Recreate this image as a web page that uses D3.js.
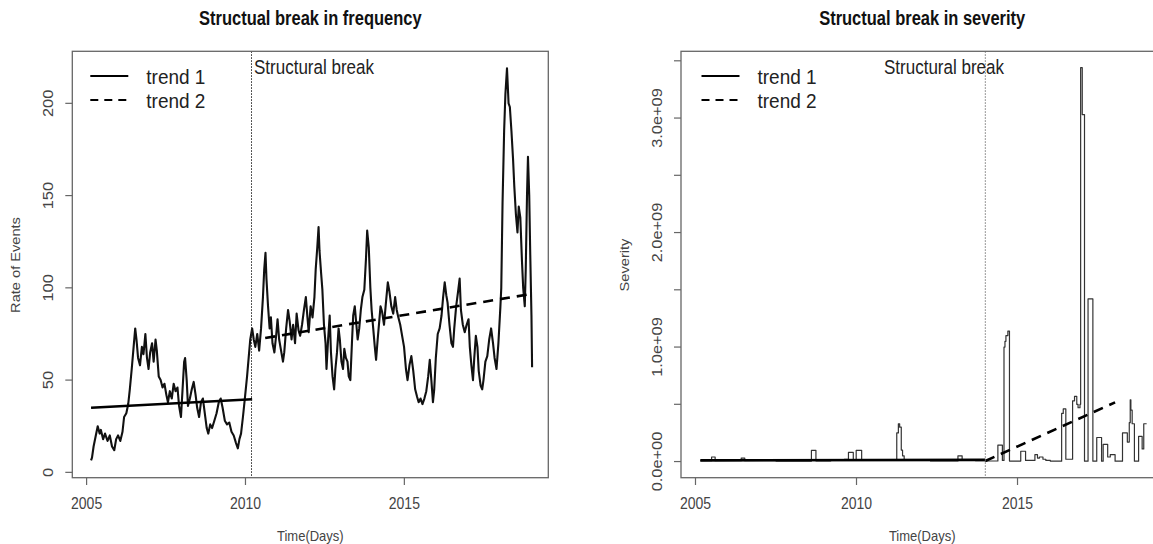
<!DOCTYPE html>
<html>
<head>
<meta charset="utf-8">
<script src="https://cdn.jsdelivr.net/npm/d3@7/dist/d3.min.js"></script>
<style>
  html, body { margin: 0; padding: 0; background: #fff; }
  svg { display: block; }
  text { font-family: "Liberation Sans", Arial, sans-serif; fill: #333; }
</style>
</head>
<body>
<svg id="chart" width="1153" height="544"></svg>
<script>
// ---- Rate of events (rolling count), by fractional year ----
const freqYears = [
  2005.14, 2005.17, 2005.22, 2005.29, 2005.35, 2005.41, 2005.45, 2005.52, 2005.58, 2005.66,
  2005.73, 2005.80, 2005.87, 2005.93, 2005.99, 2006.06, 2006.13, 2006.18, 2006.25, 2006.31,
  2006.36, 2006.42, 2006.48, 2006.53, 2006.57, 2006.62, 2006.68, 2006.74, 2006.79, 2006.85,
  2006.90, 2006.95, 2007.00, 2007.06, 2007.11, 2007.17, 2007.21, 2007.27, 2007.33, 2007.39,
  2007.45, 2007.51, 2007.56, 2007.62, 2007.68, 2007.74, 2007.80, 2007.86, 2007.91, 2007.97,
  2008.02, 2008.07, 2008.10, 2008.15, 2008.19, 2008.25, 2008.31, 2008.37, 2008.43, 2008.48,
  2008.54, 2008.60, 2008.66, 2008.72, 2008.78, 2008.83, 2008.89, 2008.95, 2009.02, 2009.09,
  2009.16, 2009.22, 2009.28, 2009.35, 2009.42, 2009.49, 2009.56, 2009.63, 2009.70, 2009.76,
  2009.81, 2009.86, 2009.92, 2009.98, 2010.05, 2010.10, 2010.15, 2010.21, 2010.26, 2010.31,
  2010.37, 2010.43, 2010.49, 2010.55, 2010.59, 2010.63, 2010.66, 2010.71, 2010.76, 2010.80,
  2010.85, 2010.91, 2010.97, 2011.01, 2011.06, 2011.12, 2011.18, 2011.22, 2011.28, 2011.34,
  2011.39, 2011.45, 2011.50, 2011.56, 2011.61, 2011.67, 2011.72, 2011.78, 2011.84, 2011.90,
  2011.95, 2011.99, 2012.05, 2012.11, 2012.17, 2012.21, 2012.26, 2012.30, 2012.33, 2012.38,
  2012.42, 2012.47, 2012.52, 2012.55, 2012.60, 2012.65, 2012.69, 2012.74, 2012.79, 2012.83,
  2012.88, 2012.93, 2012.97, 2013.02, 2013.07, 2013.11, 2013.16, 2013.21, 2013.25, 2013.30,
  2013.35, 2013.39, 2013.44, 2013.49, 2013.53, 2013.58, 2013.63, 2013.68, 2013.74, 2013.79,
  2013.83, 2013.88, 2013.93, 2013.97, 2014.02, 2014.07, 2014.11, 2014.16, 2014.21, 2014.25,
  2014.30, 2014.36, 2014.42, 2014.48, 2014.53, 2014.59, 2014.65, 2014.71, 2014.76, 2014.81,
  2014.87, 2014.93, 2014.99, 2015.05, 2015.10, 2015.16, 2015.22, 2015.28, 2015.34, 2015.40,
  2015.45, 2015.51, 2015.57, 2015.63, 2015.69, 2015.75, 2015.80, 2015.85, 2015.90, 2015.94,
  2015.99, 2016.05, 2016.11, 2016.17, 2016.22, 2016.27, 2016.32, 2016.36, 2016.42, 2016.48,
  2016.53, 2016.57, 2016.63, 2016.69, 2016.74, 2016.78, 2016.84, 2016.90, 2016.96, 2017.02,
  2017.06, 2017.11, 2017.16, 2017.20, 2017.25, 2017.30, 2017.34, 2017.40, 2017.45, 2017.49,
  2017.55, 2017.61, 2017.67, 2017.73, 2017.79, 2017.84, 2017.90, 2017.96, 2018.02, 2018.05,
  2018.09, 2018.14, 2018.18, 2018.23, 2018.28, 2018.32, 2018.37, 2018.42, 2018.46, 2018.51,
  2018.56, 2018.60, 2018.65, 2018.70, 2018.74, 2018.79, 2018.82, 2018.86, 2018.89, 2018.93,
  2018.96, 2019.00, 2019.02
];
const freqValues = [
  6.5, 8, 14, 20, 25, 21, 23, 18, 21, 17,
  20, 14, 12, 18, 20, 17, 22, 30, 32, 37,
  45, 56, 68, 78, 72, 62, 58, 68, 64, 75,
  62, 56, 65, 70, 60, 72, 66, 52, 50, 46,
  48, 42, 38, 44, 40, 48, 44, 46, 36, 30,
  45, 60, 62, 50, 36, 40, 45, 49, 42, 35,
  30, 38, 40, 32, 24, 21, 26, 24, 28, 32,
  38, 40, 35, 28, 26, 27, 22, 20, 16, 13,
  18, 21, 30, 40, 52, 62, 72, 78, 72, 68,
  75, 66, 78, 95, 110, 119, 105, 90, 78, 84,
  70, 65, 75, 83, 72, 66, 60, 65, 78, 88,
  82, 72, 80, 70, 86, 77, 74, 80, 88, 95,
  84, 76, 90, 84, 95, 110, 122, 133, 120, 108,
  99, 80, 70, 56, 72, 85, 65, 52, 45, 56,
  65, 78, 72, 60, 56, 67, 62, 60, 52, 50,
  70, 85, 90, 80, 72, 78, 88, 95, 99, 115,
  131, 122, 100, 88, 78, 68, 61, 72, 82, 90,
  87, 80, 92, 103, 98, 90, 86, 95, 88, 84,
  80, 74, 68, 56, 50, 58, 63, 55, 45, 41,
  38, 40, 37, 40, 44, 52, 61, 50, 38, 45,
  62, 75, 78, 85, 95, 103, 96, 92, 80, 70,
  68, 78, 90, 98, 105, 88, 80, 76, 80, 83,
  68, 58, 50, 62, 74, 68, 55, 47, 45, 50,
  60, 63, 72, 78, 70, 62, 56, 70, 89, 100,
  146, 185, 205, 219, 200, 198, 185, 170, 155, 140,
  130, 144, 138, 115, 100, 90, 110, 150, 171, 150,
  120, 85, 57
];

// ---- Severity (step series), change points by fractional year ----
const sevYears = [
  2005.15, 2005.50, 2005.61, 2006.42, 2006.53, 2007.50, 2008.60, 2008.74, 2009.20, 2009.62,
  2009.75, 2009.90, 2009.99, 2010.16, 2010.80, 2011.25, 2011.30, 2011.34, 2011.39, 2011.43,
  2011.48, 2012.30, 2013.15, 2013.28, 2013.70, 2014.00, 2014.39, 2014.53, 2014.58, 2014.61,
  2014.64, 2014.70, 2014.75, 2015.10, 2015.25, 2015.54, 2015.62, 2015.68, 2015.79, 2015.88,
  2016.02, 2016.37, 2016.42, 2016.50, 2016.71, 2016.77, 2016.84, 2016.88, 2016.94, 2016.96,
  2017.01, 2017.08, 2017.19, 2017.34, 2017.46, 2017.61, 2017.66, 2017.80, 2017.88, 2018.03,
  2018.26, 2018.41, 2018.47, 2018.50, 2018.52, 2018.56, 2018.63, 2018.76, 2018.87, 2018.92,
  2019.01
];
const sevValues = [
  0.008e9, 0.04e9, 0.008e9, 0.03e9, 0.008e9, 0.004e9, 0.098e9, 0.006e9, 0.01e9, 0.02e9,
  0.08e9, 0.015e9, 0.098e9, 0.015e9, 0.01e9, 0.25e9, 0.33e9, 0.30e9, 0.10e9, 0.05e9,
  0.01e9, 0.005e9, 0.05e9, 0.01e9, 0.008e9, 0.005e9, 0.144e9, 0.01e9, 1.0e9, 1.05e9,
  1.10e9, 1.14e9, 0.004e9, 0.09e9, 0.01e9, 0.06e9, 0.03e9, 0.04e9, 0.02e9, 0.01e9,
  0.003e9, 0.42e9, 0.46e9, 0.02e9, 0.53e9, 0.57e9, 0.50e9, 0.47e9, 0.50e9, 3.44e9,
  3.03e9, 0.003e9, 1.42e9, 0.003e9, 0.21e9, 0.003e9, 0.15e9, 0.04e9, 0.06e9, 0.003e9,
  0.25e9, 0.17e9, 0.34e9, 0.54e9, 0.45e9, 0.33e9, 0.003e9, 0.22e9, 0.11e9, 0.33e9,
  0.33e9
];

// ---- Fitted trends: [start, end] ----
const freqTrend1Years = [2005.14, 2010.21];
const freqTrend1Values = [35, 39.6];
const freqTrend2Years = [2010.62, 2019.00];
const freqTrend2Values = [72.8, 96.7];
const sevTrend1Years = [2005.15, 2014.00];
const sevTrend1Values = [0.010e9, 0.015e9];
const sevTrend2Years = [2014.00, 2018.03];
const sevTrend2Values = [0.005e9, 0.517e9];

const freqBreak = 2010.19;
const sevBreak = 2014.00;

// ---- Axis ticks ----
const yearTicks = [2005, 2010, 2015];
const freqTicks = [0, 50, 100, 150, 200];
const sevTicks = [0, 0.5e9, 1.0e9, 1.5e9, 2.0e9, 2.5e9, 3.0e9, 3.5e9];
const sevTickLabels = ["0.0e+00", "", "1.0e+09", "", "2.0e+09", "", "3.0e+09", ""];

const legendLabels = ["trend 1", "trend 2"];

// ---------------------------------------------------------------
const svg = d3.select("#chart");
const SY = 1.17; // glyphs are drawn slightly tall

function label(g, x, y, str, o = {}) {
  const sy = o.sy || SY;
  const t = g.append("text")
    .attr("transform", `translate(${x},${y}) scale(1,${sy})` + (o.rotate ? " rotate(-90)" : ""))
    .attr("text-anchor", o.anchor || "middle")
    .attr("dominant-baseline", "central")
    .style("font-size", (o.size || 14) + "px")
    .text(str);
  if (o.bold) t.style("font-weight", "bold");
  if (o.fill) t.style("fill", o.fill);
  return t;
}

function panel(cfg) {
  const g = svg.append("g");
  const x = d3.scaleLinear().domain([2004.55, 2019.53]).range([cfg.left, cfg.right]);
  const y = d3.scaleLinear().domain(cfg.yDomain).range([477.7, 51.3]);
  const cx = (cfg.left + cfg.right) / 2;

  const clipId = "clip" + cfg.id;
  svg.append("clipPath").attr("id", clipId)
    .append("rect").attr("x", cfg.left).attr("y", 51.3)
    .attr("width", cfg.right - cfg.left).attr("height", 477.7 - 51.3);
  const plot = g.append("g").attr("clip-path", `url(#${clipId})`);

  // data series
  const line = d3.line().x(d => x(d[0])).y(d => y(d[1]));
  if (cfg.step) line.curve(d3.curveStepAfter);
  plot.append("path")
    .datum(d3.zip(cfg.years, cfg.values))
    .attr("d", line)
    .attr("fill", "none")
    .attr("stroke", cfg.seriesColor)
    .attr("stroke-width", cfg.seriesWidth)
    .attr("stroke-linejoin", "round");

  // trends
  const tline = d3.line().x(d => x(d[0])).y(d => y(d[1]));
  plot.append("path").datum(d3.zip(cfg.t1y, cfg.t1v)).attr("d", tline)
    .attr("fill", "none").attr("stroke", "#000").attr("stroke-width", 2.6);
  plot.append("path").datum(d3.zip(cfg.t2y, cfg.t2v)).attr("d", tline)
    .attr("fill", "none").attr("stroke", "#000").attr("stroke-width", 2.6)
    .attr("stroke-dasharray", "10,7");

  // structural break marker
  g.append("line")
    .attr("x1", x(cfg.brk)).attr("x2", x(cfg.brk))
    .attr("y1", 51.3).attr("y2", 477.7)
    .attr("stroke", cfg.breakColor).attr("stroke-width", 1)
    .attr("stroke-dasharray", "1.5,1.5");
  label(g, cfg.breakTextX, 67, "Structural break", { anchor: "start", size: 17, fill: "#222" });

  // frame
  g.append("rect")
    .attr("x", cfg.left).attr("y", 51.3)
    .attr("width", cfg.right - cfg.left).attr("height", 477.7 - 51.3)
    .attr("fill", "none").attr("stroke", "#666").attr("stroke-width", 1.3);

  // x axis
  yearTicks.forEach(v => {
    g.append("line").attr("x1", x(v)).attr("x2", x(v)).attr("y1", 477.7).attr("y2", 485)
      .attr("stroke", "#666").attr("stroke-width", 1.2);
    label(g, x(v), 503, String(v), { size: 14, fill: "#444" });
  });
  label(g, cx, 536, "Time(Days)", { size: 13, fill: "#444" });

  // y axis
  cfg.yTicks.forEach((v, i) => {
    g.append("line").attr("x1", cfg.left - 7).attr("x2", cfg.left).attr("y1", y(v)).attr("y2", y(v))
      .attr("stroke", "#666").attr("stroke-width", 1.2);
    const s = cfg.yLabels[i];
    if (s) label(g, cfg.yLabelX, y(v), s, { size: 14, rotate: true, fill: "#444" });
  });
  label(g, cfg.yTitleX, 265, cfg.yTitle, { size: 12.5, rotate: true, fill: "#444" });

  // title
  label(g, cx, 19, cfg.title, { size: 16.5, bold: true, fill: "#111" });

  // legend
  const lx0 = cfg.left + cfg.legendDx, lx1 = lx0 + 38;
  [76, 100].forEach((ly, i) => {
    const l = g.append("line").attr("x1", lx0).attr("x2", lx1).attr("y1", ly).attr("y2", ly)
      .attr("stroke", "#000").attr("stroke-width", 2.2);
    if (i === 1) l.attr("stroke-dasharray", "8,6");
    label(g, lx1 + 18, ly + 1, legendLabels[i], { anchor: "start", size: 19, sy: 1.08, fill: "#222" });
  });
}

panel({
  id: "freq", left: 72.3, right: 548.3,
  yDomain: [-2.9, 228.2],
  years: freqYears, values: freqValues, step: false,
  seriesColor: "#111", seriesWidth: 2.1,
  t1y: freqTrend1Years, t1v: freqTrend1Values, t2y: freqTrend2Years, t2v: freqTrend2Values,
  brk: freqBreak, breakColor: "#222", breakTextX: 254,
  yTicks: freqTicks, yLabels: freqTicks.map(String), yLabelX: 48,
  yTitle: "Rate of Events", yTitleX: 16,
  title: "Structual break in frequency", legendDx: 18
});

panel({
  id: "sev", left: 681, right: 1163.4,
  yDomain: [-0.141e9, 3.583e9],
  years: sevYears, values: sevValues, step: true,
  seriesColor: "#333", seriesWidth: 1.2,
  t1y: sevTrend1Years, t1v: sevTrend1Values, t2y: sevTrend2Years, t2v: sevTrend2Values,
  brk: sevBreak, breakColor: "#777", breakTextX: 884,
  yTicks: sevTicks, yLabels: sevTickLabels, yLabelX: 656.5,
  yTitle: "Severity", yTitleX: 625,
  title: "Structual break in severity", legendDx: 20.5
});
</script>
</body>
</html>
